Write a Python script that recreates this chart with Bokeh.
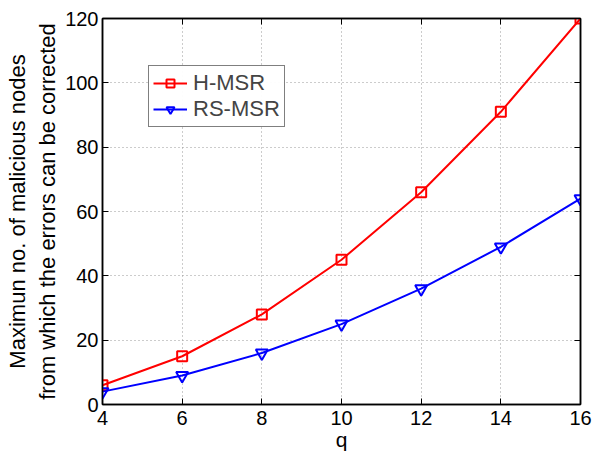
from bokeh.plotting import figure
from bokeh.models import LinearAxis, FixedTicker, Legend, LegendItem, Range1d
from bokeh.embed import file_html
from bokeh.resources import INLINE

q = [4, 6, 8, 10, 12, 14, 16]
h_msr = [6, 15, 28, 45, 66, 91, 120]
rs_msr = [4, 9, 16, 25, 36, 49, 64]
x_ticks = [4, 6, 8, 10, 12, 14, 16]
y_ticks = [0, 20, 40, 60, 80, 100, 120]

FONT = "Liberation Sans"

p = figure(width=594, height=453, output_backend="svg", toolbar_location=None,
           x_range=Range1d(4, 16), y_range=Range1d(0, 120),
           min_border_left=102, min_border_right=14, min_border_top=18, min_border_bottom=49)
p.outline_line_color = "black"
p.outline_line_width = 1.5

for ax in [p.xaxis[0], p.yaxis[0]]:
    ax.major_label_text_font = FONT
    ax.major_label_text_font_size = "20px"
    ax.major_label_text_color = "black"
    ax.axis_label_text_font = FONT
    ax.axis_label_text_font_style = "normal"
    ax.axis_label_text_color = "black"
    ax.major_tick_in = 6
    ax.major_tick_out = 0
    ax.minor_tick_line_color = None
    ax.axis_line_color = "black"
    ax.axis_line_width = 1.5

p.xaxis[0].ticker = FixedTicker(ticks=x_ticks)
p.yaxis[0].ticker = FixedTicker(ticks=y_ticks)
p.xaxis[0].axis_label = "q"
p.xaxis[0].axis_label_text_font_size = "21px"
p.xaxis[0].axis_label_standoff = 0
p.xaxis[0].major_label_standoff = 6
p.yaxis[0].axis_label = "Maximun no. of malicious nodes\nfrom which the errors can be corrected"
p.yaxis[0].axis_label_text_font_size = "22px"
p.yaxis[0].axis_label_standoff = 2
p.yaxis[0].major_label_standoff = 4

right = LinearAxis(ticker=FixedTicker(ticks=y_ticks), major_label_text_font_size="0px",
                   major_tick_in=6, major_tick_out=0, minor_tick_line_color=None,
                   axis_line_width=1.5)
top = LinearAxis(ticker=FixedTicker(ticks=x_ticks), major_label_text_font_size="0px",
                 major_tick_in=6, major_tick_out=0, minor_tick_line_color=None,
                 axis_line_width=1.5)
p.add_layout(right, "right")
p.add_layout(top, "above")

p.xgrid.ticker = FixedTicker(ticks=x_ticks)
p.ygrid.ticker = FixedTicker(ticks=y_ticks)
for g in [p.xgrid[0], p.ygrid[0]]:
    g.grid_line_color = "#999999"
    g.grid_line_dash = "1 3"
    g.grid_line_width = 1

l1 = p.line(q, h_msr, line_color="red", line_width=2)
m1 = p.scatter(q, h_msr, marker="square", size=10, fill_color=None, line_color="red", line_width=2)
l2 = p.line(q, rs_msr, line_color="blue", line_width=2)
m2 = p.scatter(q, rs_msr, marker="inverted_triangle", size=12, fill_color=None, line_color="blue", line_width=2)

legend = Legend(items=[LegendItem(label="H-MSR", renderers=[l1, m1]),
                       LegendItem(label="RS-MSR", renderers=[l2, m2])],
                location=(46, 277))
legend.label_text_font = FONT
legend.label_text_font_size = "22px"
legend.label_height = 20
legend.glyph_height = 20
legend.border_line_color = "black"
legend.border_line_width = 1.5
legend.glyph_width = 34
legend.spacing = 0
legend.padding = 4
legend.margin = 0
legend.label_standoff = 6
p.add_layout(legend, "center")

open("out.html", "w").write(file_html(p, INLINE))
